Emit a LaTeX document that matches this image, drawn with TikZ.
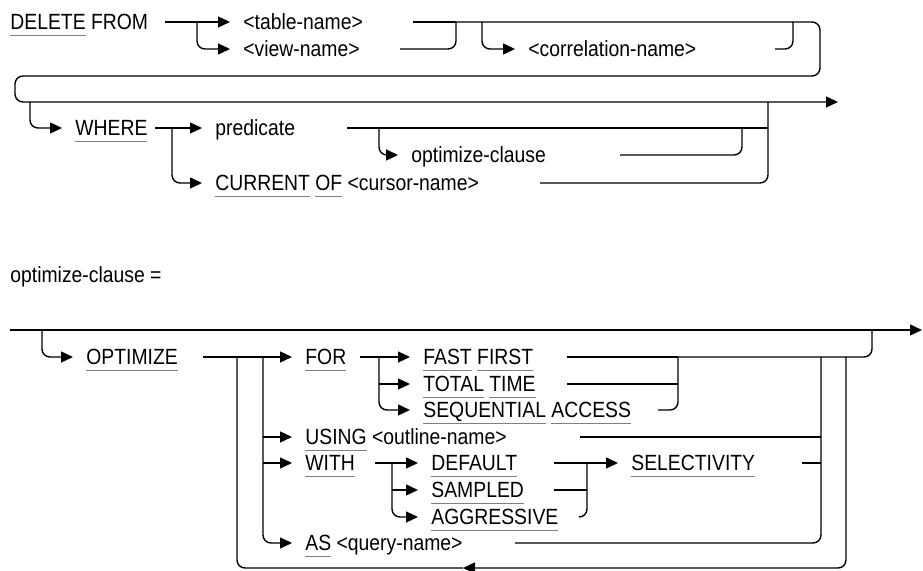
\documentclass[tikz,border=0pt]{standalone}
\usepackage{fontspec}
\setmainfont[FakeStretch=0.88]{Liberation Sans}
\usetikzlibrary{arrows.meta}

\newsavebox\kwbox
\newcommand\kw[1]{\sbox\kwbox{#1}\rlap{\color{black!50}\rule[-2.9pt]{\wd\kwbox}{0.55pt}}\usebox\kwbox}

\begin{document}
\begin{tikzpicture}[
    x=0.5pt, y=-0.5pt,
    font=\fontsize{11}{13}\selectfont,
    term/.style ={anchor=west, inner xsep=6.5pt, inner ysep=0pt, text height=9.9pt, text depth=2pt},
    head/.style ={term, inner xsep=0pt},
    ln/.style   ={draw=black, line width=0.7pt, rounded corners=4pt},
    fl/.style   ={ln, -{Triangle[length=6pt,width=5.5pt]}}
  ]
  \useasboundingbox (0,0) rectangle (923,571);

  % --- DELETE FROM ---------------------------------------------------------
  \node[head] (del) at (10,22) {\kw{DELETE} FROM};
  \coordinate (d0) at (165,22);
  \coordinate (d1) at (197,22);
  \node[term] (tbl) at (230,22) {<table-name>};
  \node[term] (vw)  at (230,49) {<view-name>};
  \draw[fl] (d0) -- (tbl.west);
  \draw[fl] (d1) |- (vw.west);

  \coordinate (t1) at (413,22);
  \coordinate (v1) at (400,49);
  \coordinate (tv) at (456,22);
  \draw[ln] (t1) -- (tv);
  \draw[ln] (v1) -| (tv);

  % --- correlation name and wrap -------------------------------------------
  \coordinate (c0) at (482,22);
  \coordinate (c1) at (793,22);
  \coordinate (ce) at (775,49);
  \node[term] (corr) at (515,49) {<correlation-name>};
  \draw[fl] (c0) |- (corr.west);
  \draw[ln] (ce) -| (c1);

  \coordinate (wrapR) at (820,76);
  \coordinate (wrapL) at (15,76);
  \coordinate (mainR) at (838,102);
  \draw[fl] (tv) -| (wrapR) -- (wrapL) |- (mainR);

  % --- WHERE -----------------------------------------------------------------
  \coordinate (w0) at (30,102);
  \node[term] (where) at (62,128) {\kw{WHERE}};
  \draw[fl] (w0) |- (where.west);

  \coordinate (w1) at (155,128);
  \coordinate (w2) at (172,128);
  \node[term] (pred) at (202,128) {predicate};
  \node[term] (curs) at (202,183) {\kw{CURRENT} \kw{OF} <cursor-name>};
  \draw[fl] (w1) -- (pred.west);
  \draw[fl] (w2) |- (curs.west);

  \coordinate (p1) at (347,128);
  \coordinate (p2) at (379,128);
  \node[term] (optc) at (398,155) {optimize-clause};
  \draw[fl] (p2) |- (optc.west);

  \coordinate (wr) at (768,102);
  \coordinate (ke) at (540,183);
  \coordinate (oe) at (620,155);
  \coordinate (oj) at (742,128);
  \draw[ln] (p1) -- (p1 -| wr);
  \draw[ln] (oe) -| (oj);
  \draw[ln] (ke) -| (wr);

  % --- optimize-clause -------------------------------------------------------
  \node[head] (ocl) at (10,275) {optimize-clause =};
  \coordinate (m0) at (10,330);
  \coordinate (m1) at (922,330);
  \draw[fl] (m0) -- (m1);

  \coordinate (o0) at (42,330);
  \node[term] (opt) at (73,357) {\kw{OPTIMIZE}};
  \draw[fl] (o0) |- (opt.west);

  \coordinate (o1) at (203,357);
  \node[term] (for)   at (292,357) {\kw{FOR}};
  \node[term] (using) at (292,437) {\kw{USING} <outline-name>};
  \node[term] (with)  at (292,463) {\kw{WITH}};
  \node[term] (as)    at (292,543) {\kw{AS} <query-name>};
  \draw[fl] (o1) -- (for.west);

  \coordinate (b0) at (263,357);
  \foreach \n in {using,with} \draw[fl] (\n.west -| b0) -- (\n.west);
  \draw[fl] (b0) |- (as.west);

  % --- FOR alternatives
  \coordinate (f0) at (360,357);
  \coordinate (f1) at (379,357);
  \node[term] (fast)  at (410,357) {\kw{FAST} \kw{FIRST}};
  \node[term] (total) at (410,384) {\kw{TOTAL} \kw{TIME}};
  \node[term] (seq)   at (410,410) {\kw{SEQUENTIAL} \kw{ACCESS}};
  \draw[fl] (f0) -- (fast.west);
  \draw[fl] (total.west -| f1) -- (total.west);
  \draw[fl] (f1) |- (seq.west);

  \coordinate (fe1) at (567,357);
  \coordinate (fe2) at (567,384);
  \coordinate (fe3) at (658,410);
  \coordinate (fj)  at (678,357);
  \coordinate (rj)  at (872,330);
  \draw[ln] (fe1) -- (fj);
  \draw[ln] (fe2) -- (fe2 -| fj);
  \draw[ln] (fe3) -| (fj);
  \draw[ln] (fj) -| (rj);

  % --- WITH alternatives
  \coordinate (h0) at (375,463);
  \coordinate (h1) at (392,463);
  \node[term] (dflt) at (418,463) {\kw{DEFAULT}};
  \node[term] (smpl) at (418,490) {\kw{SAMPLED}};
  \node[term] (aggr) at (418,517) {\kw{AGGRESSIVE}};
  \draw[fl] (h0) -- (dflt.west);
  \draw[fl] (smpl.west -| h1) -- (smpl.west);
  \draw[fl] (h1) |- (aggr.west);

  \coordinate (de) at (554,463);
  \coordinate (sm) at (554,490);
  \coordinate (ag) at (580,517);
  \coordinate (hj) at (587,463);
  \node[term] (sel) at (618,463) {\kw{SELECTIVITY}};
  \draw[fl] (de) -- (sel.west);
  \draw[ln] (sm) -- (sm -| hj);
  \draw[ln] (ag) -| (hj);

  % --- right joins and loop back
  \coordinate (vA) at (821,357);
  \coordinate (ue) at (580,437);
  \coordinate (se) at (802,463);
  \coordinate (ae) at (515,543);
  \draw[ln] (ue) -- (ue -| vA);
  \draw[ln] (se) -- (se -| vA);
  \draw[ln] (ae) -| (vA);

  \coordinate (lpR) at (846,357);
  \coordinate (lpA) at (463,568);
  \coordinate (lpL) at (237,357);
  \draw[fl] (lpR) |- (lpA);
  \draw[ln] (lpA) -| (lpL);

  \end{tikzpicture}
\end{document}
